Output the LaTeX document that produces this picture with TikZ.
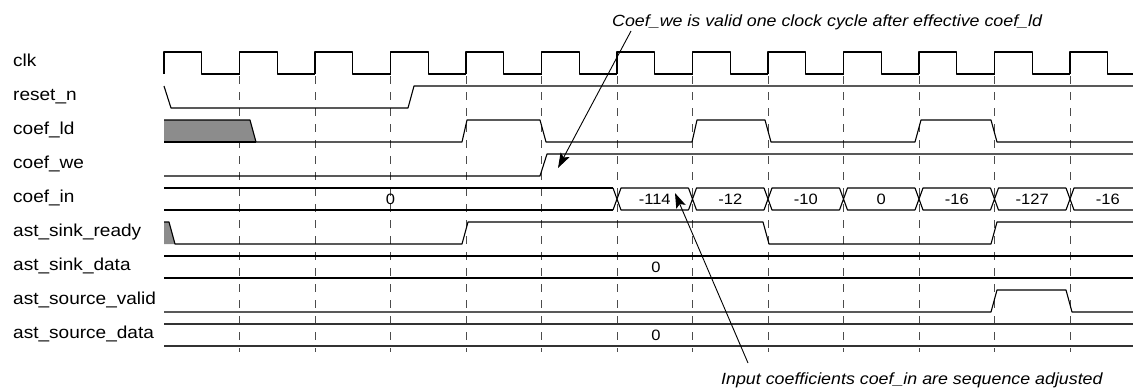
\documentclass[tikz,border=0pt]{standalone}
\usepackage{fontspec}
\setmainfont{Liberation Sans}[FakeStretch=1.1]
\usetikzlibrary{arrows.meta,positioning}

\begin{document}
\begin{tikzpicture}[x=1pt,y=-1pt,
  sig/.style={line width=1.1pt,line join=round},
  cyclemark/.style={black!70,line width=0.9pt,dash pattern=on 8pt off 8pt},
  greyed/.style={fill=black!45},
  signame/.style={anchor=west,inner sep=0pt,text height=1.5ex,text depth=.3ex,font=\fontsize{17.3}{20}\selectfont},
  busval/.style={inner sep=0pt,font=\fontsize{15}{18}\selectfont},
  notetext/.style={anchor=base west,inner sep=0pt,font=\fontsize{16.2}{19}\selectfont\itshape},
  notearrow/.style={line width=0.9pt,-{Stealth[length=15pt,width=10pt,inset=3pt]}}]
\useasboundingbox (0,0) rectangle (1133,389);
\clip (0,0) rectangle (1133,389);
% signal names
\foreach \y/\id/\txt in {63/clk/clk,97/rst/reset\_n,131/ld/coef\_ld,165/we/coef\_we,199/in/coef\_in,
  233/rdy/ast\_sink\_ready,267/sdat/ast\_sink\_data,301/vld/ast\_source\_valid,335/odat/ast\_source\_data}{
  \node[signame] (lbl-\id) at (13,\y) {\txt};}
% cycle marks
\foreach \k in {1,...,12}
  \draw[cyclemark] (164+75.5*\k,76)--(164+75.5*\k,352);
% clk
\foreach \k in {0,...,12}{
  \pgfmathsetmacro\e{164+75.5*\k}
  \draw[sig] (\e,74)--(\e,52)--(\e+37.75,52)--(\e+37.75,74)--(\e+75.5,74);}
% reset_n
\draw[sig] (164,86)--(171,108)--(408,108)--(414,86)--(1140,86);
% coef_ld
\fill[greyed] (164,120)--(250,120)--(256,142)--(164,142)--cycle;
\draw[sig] (164,120)--(250,120)--(256,142)--(462,142)--(467,120)--(540,120)--(546,142)--(692,142)--(697,120)
  --(765,120)--(771,142)--(915,142)--(921,120)--(991,120)--(997,142)--(1140,142);
\draw[sig] (164,142)--(256,142);
% coef_we
\draw[sig] (164,176)--(540,176)--(547,154)--(1140,154);
% coef_in
\draw[sig] (164,188)--(613,188) (164,210)--(613,210);
\node[busval] (in-init) at (390.5,199) {0};
\foreach \v [count=\k from 0] in {-114,-12,-10,0,-16,-127,-16}{
  \pgfmathsetmacro\c{617+75.5*\k}
  \draw[sig] (\c-4,188)--(\c+4,210)--(\c+71.5,210) (\c-4,210)--(\c+4,188)--(\c+71.5,188);
  \node[busval] (in-\k) at (\c+37.75,199) {\v};}
% ast_sink_ready
\fill[greyed] (164,222)--(169,222)--(175,244)--(164,244)--cycle;
\draw[sig] (164,222)--(169,222)--(175,244)--(462,244)--(468,222)--(763,222)--(769,244)--(991,244)--(997,222)--(1140,222);
% ast_sink_data
\draw[sig] (164,256)--(1140,256) (164,278)--(1140,278);
\node[busval] (sdat-0) at (656,267) {0};
% ast_source_valid
\draw[sig] (164,312)--(991,312)--(997,290)--(1066,290)--(1072,312)--(1140,312);
% ast_source_data
\draw[sig,black!80] (164,324)--(1140,324) (164,346)--(1140,346);
\node[busval] (odat-0) at (656,335) {0};
% notes
\node[notetext] (noteWe) at (612,26) {Coef\_we is valid one clock cycle after effective coef\_ld};
\node[notetext] (noteIn) at (721,384) {Input coefficients coef\_in are sequence adjusted};
\coordinate (weTail) at (631,31);
\coordinate (weTip) at (558,168);
\coordinate (inTail) at (748,363);
\coordinate (inTip) at (675,193);
\draw[notearrow] (weTail)--(weTip);
\draw[notearrow] (inTail)--(inTip);
\end{tikzpicture}
\end{document}
